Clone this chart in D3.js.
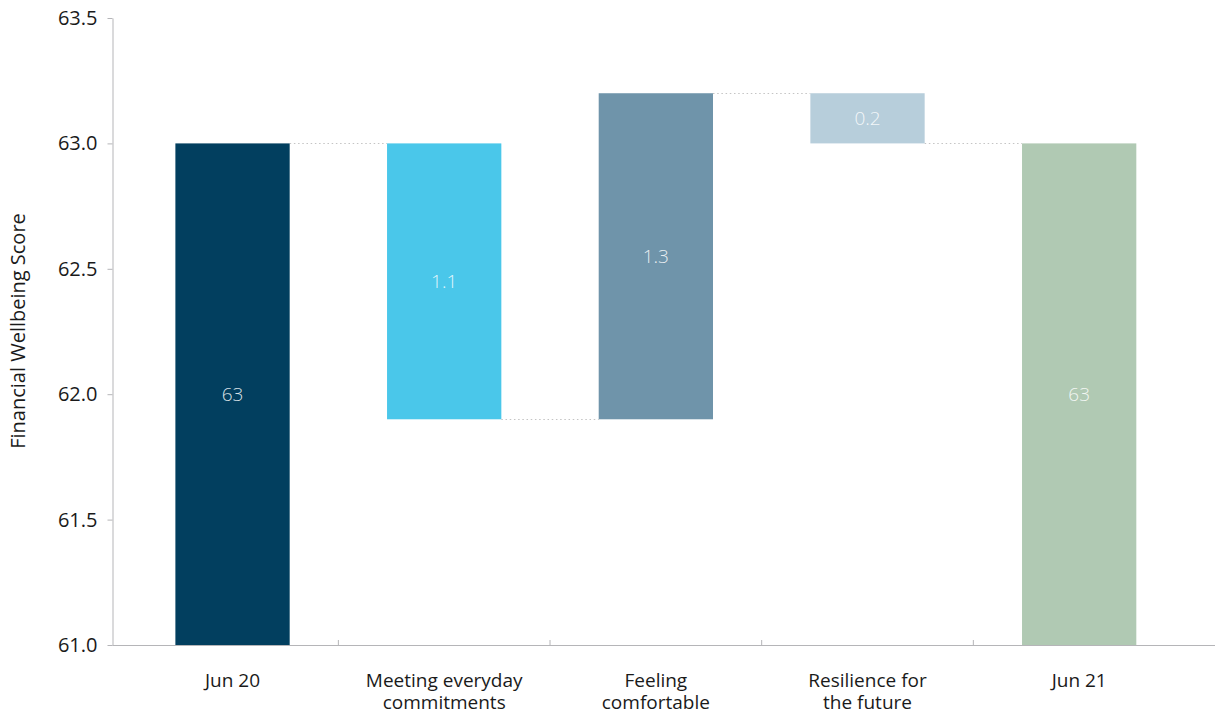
<!DOCTYPE html>
<html>
<head>
<meta charset="utf-8">
<script src="https://cdn.jsdelivr.net/npm/d3@7"></script>
<style>
  body { margin: 0; background: #fff; }
  text { font-family: "Open Sans", "Noto Sans", sans-serif; }
</style>
</head>
<body>
<script>
var categories = [["Jun 20"], ["Meeting everyday", "commitments"], ["Feeling", "comfortable"], ["Resilience for", "the future"], ["Jun 21"]];
var barStart = [61.0, 63.0, 61.9, 63.2, 61.0];
var barEnd = [63.0, 61.9, 63.2, 63.0, 63.0];
var barLabels = ["63", "1.1", "1.3", "0.2", "63"];
var barColors = ["#023f5f", "#4ac7ea", "#6f94aa", "#b7cedb", "#b0c9b3"];
var yTicks = [61.0, 61.5, 62.0, 62.5, 63.0, 63.5];

var width = 1215, height = 715;

var svg = d3.select("body").append("svg")
    .attr("width", width)
    .attr("height", height);

var x = d3.scaleBand()
    .domain(d3.range(categories.length))
    .range([126.7, 1185])
    .paddingInner(0.46)
    .paddingOuter(0.23);

var y = d3.scaleLinear()
    .domain([61.0, 63.5])
    .range([645, 18]);

// y axis
var yAxis = svg.append("g")
    .attr("transform", "translate(112.5,0)")
    .call(d3.axisLeft(y).tickValues(yTicks).tickFormat(d3.format(".1f")).tickSize(5).tickSizeOuter(0));
yAxis.select(".domain").attr("stroke", "#b5b5b8");
yAxis.selectAll(".tick line").attr("stroke", "#b5b5b8");
yAxis.selectAll(".tick text")
    .attr("x", -15)
    .attr("fill", "#1a1a1a")
    .style("font-size", "20px");

// x axis line + boundary ticks
svg.append("line")
    .attr("x1", 112.5).attr("x2", width)
    .attr("y1", 645.5).attr("y2", 645.5)
    .attr("stroke", "#b5b5b8");

svg.selectAll("line.xtick")
    .data(d3.range(1, categories.length))
    .enter().append("line")
    .attr("class", "xtick")
    .attr("x1", function (d) { return x(d) - x.step() * x.paddingInner() / 2; })
    .attr("x2", function (d) { return x(d) - x.step() * x.paddingInner() / 2; })
    .attr("y1", 640).attr("y2", 645)
    .attr("stroke", "#b5b5b8");

// connectors
svg.selectAll("line.conn")
    .data(d3.range(categories.length - 1))
    .enter().append("line")
    .attr("class", "conn")
    .attr("x1", function (i) { return x(i) + x.bandwidth(); })
    .attr("x2", function (i) { return x(i + 1); })
    .attr("y1", function (i) { return Math.round(y(barEnd[i])) + 0.5; })
    .attr("y2", function (i) { return Math.round(y(barEnd[i])) + 0.5; })
    .attr("stroke", "#c4c4c4")
    .attr("stroke-width", 1.2)
    .attr("stroke-dasharray", "1.5,2.7");

// bars
svg.selectAll("rect.bar")
    .data(d3.range(categories.length))
    .enter().append("rect")
    .attr("class", "bar")
    .attr("x", function (i) { return x(i); })
    .attr("width", x.bandwidth())
    .attr("y", function (i) { return y(Math.max(barStart[i], barEnd[i])); })
    .attr("height", function (i) { return Math.abs(y(barStart[i]) - y(barEnd[i])); })
    .attr("fill", function (i) { return barColors[i]; });

// value labels
svg.selectAll("text.val")
    .data(d3.range(categories.length))
    .enter().append("text")
    .attr("class", "val")
    .attr("x", function (i) { return x(i) + x.bandwidth() / 2; })
    .attr("y", function (i) { return y((barStart[i] + barEnd[i]) / 2); })
    .attr("dy", "0.35em")
    .attr("text-anchor", "middle")
    .attr("fill", "rgba(255,255,255,0.85)")
    .style("font-size", "19px")
    .style("font-weight", 300)
    .text(function (i) { return barLabels[i]; });

// category labels
var cat = svg.selectAll("text.cat")
    .data(categories)
    .enter().append("text")
    .attr("class", "cat")
    .attr("x", function (d, i) { return x(i) + x.bandwidth() / 2; })
    .attr("y", 687)
    .attr("text-anchor", "middle")
    .attr("fill", "#1a1a1a")
    .style("font-size", "19px");
cat.selectAll("tspan")
    .data(function (d) { return d; })
    .enter().append("tspan")
    .attr("x", function () { return d3.select(this.parentNode).attr("x"); })
    .attr("dy", function (d, j) { return j === 0 ? 0 : 22; })
    .text(function (d) { return d; });

// y title
svg.append("text")
    .attr("transform", "translate(25,331) rotate(-90)")
    .attr("text-anchor", "middle")
    .attr("fill", "#1a1a1a")
    .style("font-size", "20px")
    .text("Financial Wellbeing Score");
</script>
</body>
</html>
